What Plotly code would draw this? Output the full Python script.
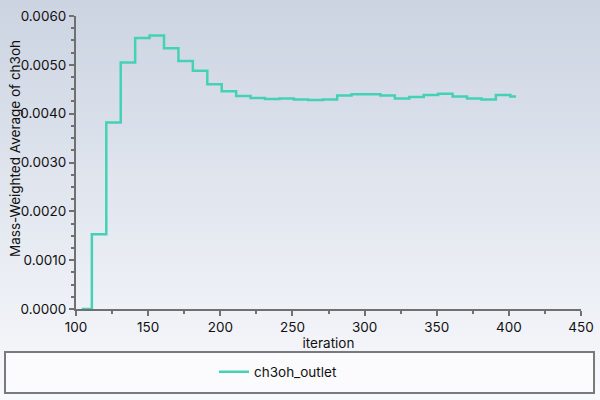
import plotly.graph_objects as go

# ---- data ----
iterations = [104, 111, 121, 131, 141, 151, 161, 171, 181, 191, 201, 211, 221, 231,
              241, 251, 261, 271, 281, 291, 301, 311, 321, 331, 341, 351, 361, 371,
              381, 391, 401, 405]
ch3oh_outlet = [0.0, 0.00153, 0.00382, 0.00505, 0.00555, 0.00560, 0.00534, 0.00508,
                0.00488, 0.00460, 0.00446, 0.00436, 0.00432, 0.00430, 0.00431, 0.00429,
                0.00428, 0.00429, 0.00437, 0.00440, 0.00440, 0.00437, 0.00431, 0.00434,
                0.00438, 0.00441, 0.00435, 0.00431, 0.00429, 0.00438, 0.00435, 0.00435]
series_name = "ch3oh_outlet"
x_title = "iteration"
y_title = "Mass-Weighted Average of ch3oh"

W, H = 600, 400
L, R, T, B = 76, 581, 16, 309


def px(xp):
    return (xp - L) / (R - L)


def py(yp):
    return (B - yp) / (B - T)


fig = go.Figure()
fig.add_trace(go.Scatter(
    x=iterations, y=ch3oh_outlet, mode="lines", name=series_name,
    line=dict(color="#45d1b5", width=2.5, shape="hv"),
))

shapes = []
# background gradient
n = 50
top = (204, 212, 226)
bot = (248, 249, 252)
for i in range(n):
    f = i / (n - 1)
    c = tuple(round(top[k] + (bot[k] - top[k]) * f) for k in range(3))
    y0p = H * i / n
    y1p = H * (i + 1) / n + 1
    shapes.append(dict(type="rect", xref="paper", yref="paper",
                       x0=px(0), x1=px(W), y0=py(y1p), y1=py(y0p),
                       fillcolor="rgb(%d,%d,%d)" % c, line=dict(width=0),
                       layer="below"))
# legend box
shapes.append(dict(type="rect", xref="paper", yref="paper",
                   x0=px(5), x1=px(594), y0=py(393), y1=py(352),
                   fillcolor="#fbfbfd", line=dict(color="#7a7a7a", width=2),
                   layer="below"))

axis_common = dict(showline=True, linecolor="#707070", linewidth=2,
                   ticks="outside", tickcolor="#707070", tickwidth=2, ticklen=5,
                   showgrid=False, zeroline=False, automargin=False,
                   tickfont=dict(family="Inter", size=13.5, color="#111111"))

fig.update_layout(
    width=W, height=H,
    margin=dict(l=L, r=W - R, t=T, b=H - B, autoexpand=False),
    paper_bgcolor="#f0f2f7", plot_bgcolor="rgba(0,0,0,0)",
    shapes=shapes,
    showlegend=True,
    legend=dict(x=px(214), y=py(372), xanchor="left", yanchor="middle",
                bgcolor="rgba(0,0,0,0)", borderwidth=0,
                font=dict(family="Inter", size=13.5, color="#111111")),
    xaxis=dict(range=[100, 450], dtick=50, tick0=100,
               minor=dict(dtick=25, ticks="outside", ticklen=3, tickcolor="#707070", tickwidth=2),
               title=dict(text=x_title, standoff=4,
                          font=dict(family="Inter", size=13.5, color="#111111")),
               **axis_common),
    yaxis=dict(range=[0, 0.006], dtick=0.001, tick0=0, tickformat=".4f",
               minor=dict(dtick=0.00025, ticks="outside", ticklen=3, tickcolor="#707070", tickwidth=2),
               **axis_common),
    annotations=[dict(text=y_title, xref="paper", yref="paper",
                      x=px(15), y=py(149), textangle=-90, showarrow=False,
                      xanchor="center", yanchor="middle",
                      font=dict(family="Inter", size=13.5, color="#111111"))],
)

fig.write_html("out.html", config={"displayModeBar": False},
               post_script="document.body.style.margin='0';document.body.style.overflow='hidden';")
